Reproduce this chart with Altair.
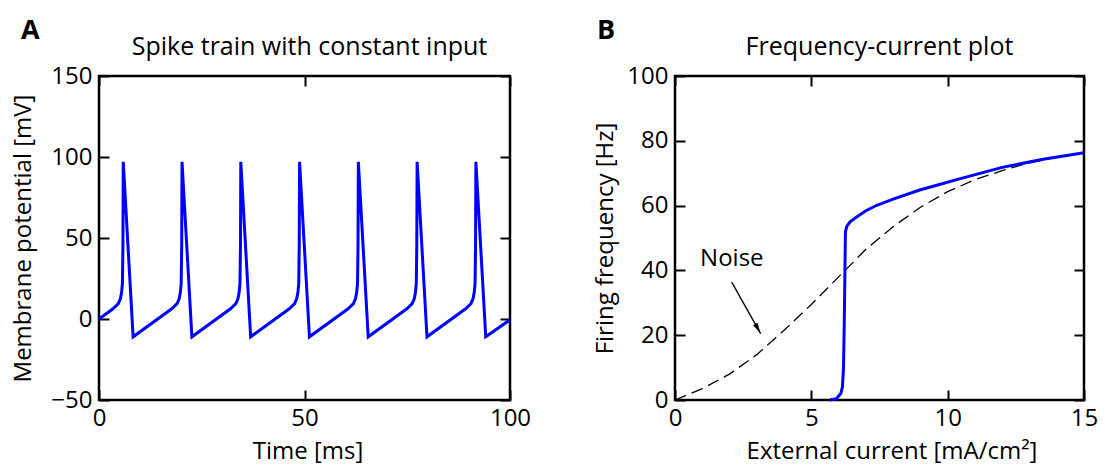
import altair as alt
import pandas as pd

FONT = "Open Sans"
BLUE = "#0000ff"

# ---------------- Panel A: spike train ----------------
spike_time = [0.0, 3.4, 4.7, 5.2, 5.5, 5.7, 5.82, 5.9, 8.3,
              17.7, 19.0, 19.5, 19.8, 20.0, 20.12, 20.2, 22.6,
              32.0, 33.3, 33.8, 34.1, 34.3, 34.42, 34.5, 36.9,
              46.3, 47.6, 48.1, 48.4, 48.6, 48.72, 48.8, 51.2,
              60.6, 61.9, 62.4, 62.7, 62.9, 63.02, 63.1, 65.5,
              74.9, 76.2, 76.7, 77.0, 77.2, 77.32, 77.4, 79.8,
              89.2, 90.5, 91.0, 91.3, 91.5, 91.62, 91.7, 94.1,
              100.0]
spike_mv = [0.0, 6.3, 9.5, 12.5, 16.5, 22.0, 45.0, 97.0, -11.0,
            6.3, 9.5, 12.5, 16.5, 22.0, 45.0, 97.0, -11.0,
            6.3, 9.5, 12.5, 16.5, 22.0, 45.0, 97.0, -11.0,
            6.3, 9.5, 12.5, 16.5, 22.0, 45.0, 97.0, -11.0,
            6.3, 9.5, 12.5, 16.5, 22.0, 45.0, 97.0, -11.0,
            6.3, 9.5, 12.5, 16.5, 22.0, 45.0, 97.0, -11.0,
            6.3, 9.5, 12.5, 16.5, 22.0, 45.0, 97.0, -11.0,
            -0.5]
a_xdomain = [0, 100]
a_ydomain = [-50, 150]
a_xticks = [0, 50, 100]
a_yticks = [-50, 0, 50, 100, 150]

# ---------------- Panel B: frequency-current ----------------
fi_current = [5.68, 5.92, 6.08, 6.14, 6.18, 6.21, 6.24, 6.25, 6.3, 6.42,
              6.66, 7.0, 7.4, 8.0, 9.0, 9.6, 10.5, 12.0, 13.5, 15.0]
fi_rate = [0.0, 0.4, 2.0, 4.0, 10.0, 25.0, 45.0, 51.9, 53.6, 55.0,
           56.5, 58.4, 60.1, 62.0, 64.9, 66.3, 68.4, 71.8, 74.3, 76.3]
noise_current = [0, 1, 2, 3, 4, 5, 6, 7, 8, 9, 10, 11, 12, 13, 14, 15]
noise_rate = [0.0, 3.5, 8.0, 14.0, 21.5, 29.5, 38.0, 46.5, 53.5, 59.5,
              64.3, 68.0, 70.8, 73.2, 75.0, 76.3]
b_xdomain = [0, 15]
b_ydomain = [0, 100]
b_xticks = [0, 5, 10, 15]
b_yticks = [0, 20, 40, 60, 80, 100]

noise_label = ["Noise"]
noise_label_x = [0.92]
noise_label_y = [43.5]
arrow_x = [2.08]
arrow_y = [36.4]
arrow_x2 = [3.14]
arrow_y2 = [20.5]

letters = ["A", "B"]
panel_titles = ["Spike train with constant input", "Frequency-current plot"]
x_titles = ["Time [ms]", "External current [mA/cm²]"]
y_titles = ["Membrane potential [mV]", "Firing frequency [Hz]"]

W_A, W_B, H = 411, 409, 324
TICK = 10
FS = 24


def sc(dom):
    return alt.Scale(domain=dom, nice=False, zero=False)


def main_x(field, dom, vals, title, width, title_dx):
    return alt.X(f"{field}:Q", scale=sc(dom),
                 axis=alt.Axis(orient="bottom", values=vals, title=title,
                               offset=-TICK, tickSize=TICK, labelPadding=6,
                               labelFlush=False, titlePadding=9,
                               titleX=width / 2 + title_dx))


def main_y(field, dom, vals, title, tpad):
    return alt.Y(f"{field}:Q", scale=sc(dom),
                 axis=alt.Axis(orient="left", values=vals, title=title,
                               offset=-TICK, tickSize=TICK, labelPadding=7,
                               labelFlush=False, titlePadding=tpad))


def side_x(field, dom, vals):
    return alt.X(f"{field}:Q", scale=sc(dom),
                 axis=alt.Axis(orient="top", values=vals, labels=False,
                               title=None, offset=-TICK, tickSize=TICK))


def side_y(field, dom, vals):
    return alt.Y(f"{field}:Q", scale=sc(dom),
                 axis=alt.Axis(orient="right", values=vals, labels=False,
                               title=None, offset=-TICK, tickSize=TICK))


def plain_x(field, dom):
    return alt.X(f"{field}:Q", scale=sc(dom), axis=None)


def plain_y(field, dom):
    return alt.Y(f"{field}:Q", scale=sc(dom), axis=None)


def header(letter, title, width, dx):
    let = alt.Chart(pd.DataFrame({"s": [letter]})).mark_text(
        align="left", baseline="alphabetic", font=FONT, fontSize=27,
        fontWeight="bold", color="black"
    ).encode(x=alt.value(-78), y=alt.value(-37), text="s:N")
    tit = alt.Chart(pd.DataFrame({"s": [title]})).mark_text(
        align="center", baseline="alphabetic", font=FONT, fontSize=25,
        color="black"
    ).encode(x=alt.value(width / 2 + dx), y=alt.value(-21), text="s:N")
    return let, tit


# ---- Panel A ----
dfA = pd.DataFrame({"t": spike_time, "v": spike_mv})
lineA = alt.Chart(dfA).mark_line(color=BLUE, strokeWidth=3).encode(
    x=main_x("t", a_xdomain, a_xticks, x_titles[0], W_A, 3),
    y=main_y("v", a_ydomain, a_yticks, y_titles[0], 15),
)
ticksA = alt.Chart(dfA).mark_line(opacity=0).encode(
    x=side_x("t", a_xdomain, a_xticks),
    y=side_y("v", a_ydomain, a_yticks),
)
letA, titA = header(letters[0], panel_titles[0], W_A, 5)
panelA = alt.layer(lineA, ticksA, letA, titA).resolve_axis(
    x="independent", y="independent").properties(width=W_A, height=H)

# ---- Panel B ----
dfB = pd.DataFrame({"i": fi_current, "f": fi_rate})
dfN = pd.DataFrame({"i": noise_current, "f": noise_rate})
dfArrow = pd.DataFrame({"x": arrow_x, "y": arrow_y, "x2": arrow_x2, "y2": arrow_y2})
dfLabel = pd.DataFrame({"x": noise_label_x, "y": noise_label_y, "s": noise_label})

noiseB = alt.Chart(dfN).mark_line(color="black", strokeWidth=1.3,
                                  strokeDash=[12, 6]).encode(
    x=plain_x("i", b_xdomain), y=plain_y("f", b_ydomain))
lineB = alt.Chart(dfB).mark_line(color=BLUE, strokeWidth=3).encode(
    x=main_x("i", b_xdomain, b_xticks, x_titles[1], W_B, 12),
    y=main_y("f", b_ydomain, b_yticks, y_titles[1], 9),
)
ticksB = alt.Chart(dfB).mark_line(opacity=0).encode(
    x=side_x("i", b_xdomain, b_xticks),
    y=side_y("f", b_ydomain, b_yticks),
)
arrowLine = alt.Chart(dfArrow).mark_rule(color="black", strokeWidth=1.3).encode(
    x=plain_x("x", b_xdomain), y=plain_y("y", b_ydomain),
    x2="x2:Q", y2="y2:Q")
arrowHead = alt.Chart(dfArrow).mark_point(
    shape="M0,0L0.45,2L-0.45,2Z", filled=True, size=121, angle=151,
    color="black", opacity=1, strokeWidth=0).encode(
    x=plain_x("x2", b_xdomain), y=plain_y("y2", b_ydomain))
labelB = alt.Chart(dfLabel).mark_text(
    align="left", baseline="middle", font=FONT, fontSize=FS, color="black"
).encode(x=plain_x("x", b_xdomain), y=plain_y("y", b_ydomain), text="s:N")
letB, titB = header(letters[1], panel_titles[1], W_B, 0)
panelB = alt.layer(noiseB, lineB, ticksB, arrowLine, arrowHead, labelB,
                   letB, titB).resolve_axis(
    x="independent", y="independent").properties(width=W_B, height=H)

chart = alt.hconcat(panelA, panelB, spacing=60).properties(
    padding={"left": 10, "top": 15, "right": 0, "bottom": 0}
).configure_view(
    stroke="black", strokeWidth=2.5
).configure_axis(
    domain=False, grid=False, tickColor="black", tickWidth=2,
    labelFont=FONT, labelFontSize=FS, labelColor="black",
    titleFont=FONT, titleFontSize=FS, titleColor="black",
    titleFontWeight="normal",
)

chart.save("out.html", embed_options={"renderer": "svg", "actions": False})
